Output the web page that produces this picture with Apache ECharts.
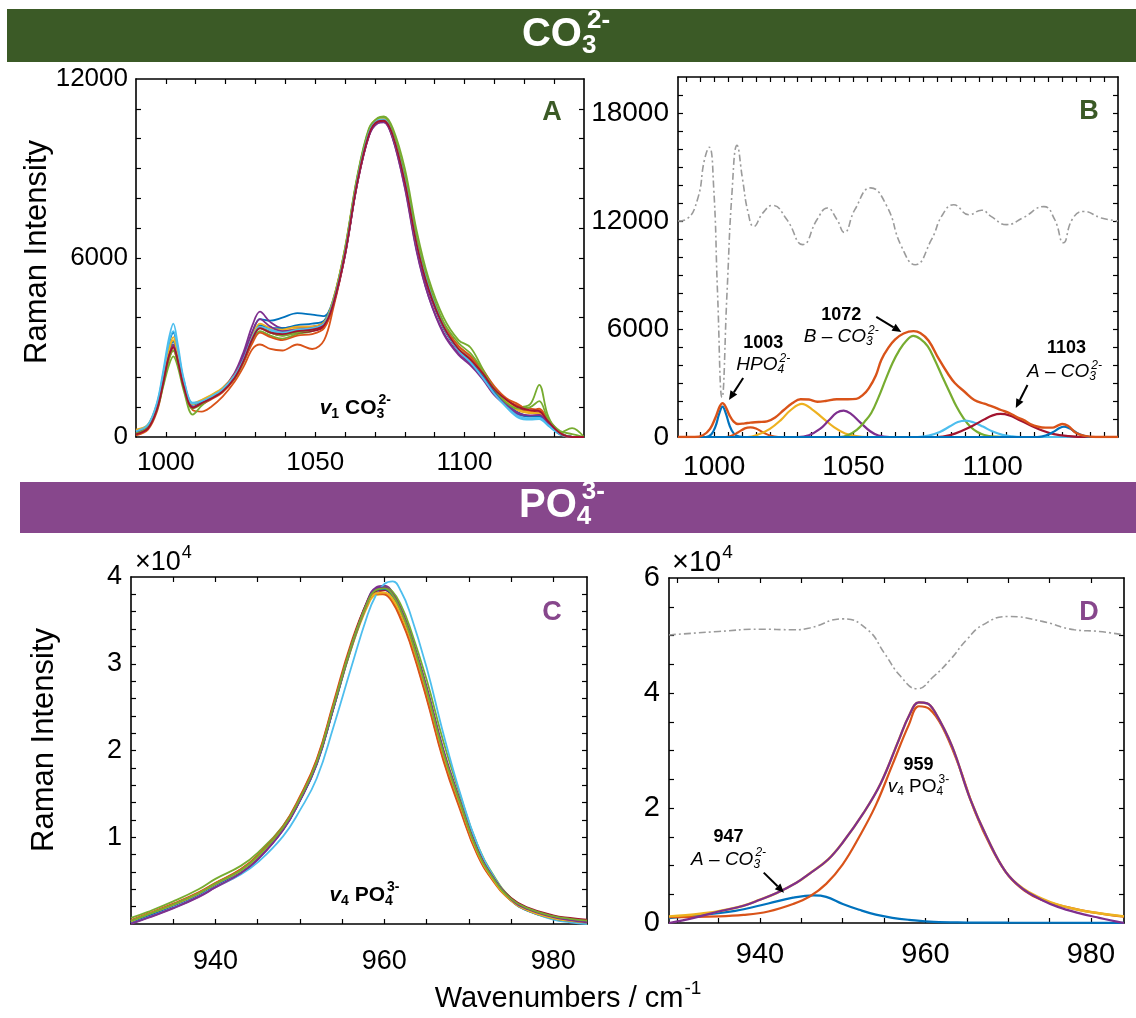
<!DOCTYPE html>
<html><head><meta charset="utf-8">
<script src="https://cdn.jsdelivr.net/npm/echarts@6/dist/echarts.min.js"></script>
<style>html,body{margin:0;padding:0;background:#fff}#c{width:1136px;height:1018px}</style>
</head><body><div id="c"></div>
<script>
// ---------------- DATA ----------------
// Panel A: v1 CO3 spectra (wavenumber grid + one array per spectrum)
const xA = [990, 994, 997, 999, 1001, 1002.5, 1004, 1006, 1009, 1012, 1015, 1019, 1023, 1026, 1029, 1031.5, 1035, 1039, 1044, 1049, 1053, 1056, 1060, 1064, 1068, 1071, 1073, 1076, 1080, 1084, 1088, 1093, 1098, 1102, 1106, 1110, 1114, 1118, 1122, 1125, 1128, 1132, 1136, 1140];
const a1 = [200, 380, 1050, 2000, 3100, 3500, 2900, 1850, 1100, 1200, 1350, 1600, 2100, 2750, 3500, 3950, 3900, 4000, 4150, 4100, 4050, 4600, 6250, 8600, 10250, 10650, 10680, 10150, 8700, 6550, 5050, 3800, 3000, 2600, 2150, 1580, 1150, 820, 700, 700, 480, 150, 0, 0];
const a2 = [50, 250, 850, 1700, 2600, 2900, 2500, 1700, 900, 850, 1000, 1350, 1850, 2350, 2950, 3100, 2950, 2900, 3100, 2950, 3250, 4300, 6100, 8500, 10150, 10550, 10580, 10050, 8500, 6350, 4950, 3750, 3050, 2700, 2200, 1650, 1250, 1050, 950, 900, 600, 150, 0, 0];
const a3 = [250, 420, 1100, 1950, 2950, 3350, 2800, 1800, 1120, 1250, 1400, 1650, 2100, 2650, 3400, 3700, 3600, 3550, 3650, 3700, 3850, 4550, 6300, 8650, 10300, 10680, 10700, 10200, 8700, 6550, 5050, 3750, 2980, 2580, 2120, 1550, 1170, 880, 800, 780, 480, 120, 0, 0];
const a4 = [150, 330, 950, 1800, 2750, 3100, 2600, 1700, 1000, 1100, 1300, 1600, 2150, 2850, 3750, 4200, 3850, 3650, 3700, 3700, 3850, 4500, 6150, 8450, 10100, 10550, 10580, 10000, 8400, 6250, 4700, 3450, 2750, 2400, 1950, 1400, 1050, 750, 700, 720, 450, 100, 0, 0];
const a5 = [100, 300, 900, 1650, 2400, 2700, 2350, 1550, 750, 1050, 1300, 1550, 1950, 2500, 3250, 3550, 3400, 3300, 3450, 3550, 3750, 4550, 6350, 8700, 10350, 10700, 10750, 10350, 9000, 6900, 5300, 4000, 3250, 3000, 2300, 1650, 1200, 1000, 1100, 1750, 700, 150, 300, 0];
const a6 = [200, 420, 1150, 2150, 3300, 3800, 3100, 1950, 1150, 1200, 1350, 1600, 2050, 2600, 3300, 3650, 3550, 3450, 3550, 3600, 3750, 4450, 6150, 8500, 10200, 10650, 10700, 10150, 8650, 6500, 5050, 3750, 2950, 2550, 2050, 1450, 1000, 650, 580, 600, 380, 80, 0, 0];
const a7 = [100, 300, 950, 1800, 2750, 3050, 2600, 1700, 1000, 1150, 1300, 1550, 2000, 2550, 3300, 3650, 3500, 3400, 3500, 3550, 3700, 4400, 6100, 8450, 10100, 10550, 10560, 10050, 8500, 6400, 4900, 3650, 2900, 2550, 2100, 1550, 1200, 950, 850, 820, 500, 120, 0, 0];
const a8 = [180, 360, 1000, 1900, 2850, 3200, 2700, 1780, 1080, 1200, 1350, 1600, 2050, 2600, 3350, 3750, 3650, 3650, 3750, 3800, 3900, 4550, 6200, 8550, 10250, 10650, 10670, 10150, 8550, 6400, 4950, 3650, 2900, 2500, 2050, 1500, 1100, 800, 680, 680, 420, 100, 0, 0];
const a9 = [80, 300, 950, 1800, 2750, 3050, 2600, 1720, 1000, 1100, 1250, 1500, 1950, 2500, 3150, 3500, 3350, 3250, 3400, 3450, 3650, 4400, 6150, 8500, 10150, 10580, 10600, 10100, 8600, 6500, 5000, 3750, 3050, 2700, 2250, 1700, 1300, 1100, 850, 950, 550, 100, 0, 0];
const a10 = [220, 400, 1050, 1900, 2900, 3250, 2750, 1800, 1100, 1230, 1380, 1620, 2080, 2650, 3400, 3800, 3650, 3600, 3700, 3700, 3850, 4600, 6300, 8600, 10250, 10650, 10680, 10200, 8650, 6500, 5000, 3700, 2950, 2600, 2150, 1600, 1200, 920, 820, 800, 500, 130, 0, 0];
const a11 = [130, 320, 950, 1800, 2700, 3050, 2550, 1680, 1000, 1120, 1280, 1550, 2050, 2700, 3550, 3950, 3700, 3550, 3600, 3650, 3800, 4450, 6100, 8450, 10100, 10520, 10550, 10000, 8350, 6200, 4700, 3500, 2800, 2450, 2000, 1450, 1080, 800, 720, 740, 460, 110, 0, 0];
const a12 = [120, 320, 950, 1750, 2600, 2900, 2500, 1650, 950, 1100, 1300, 1550, 2000, 2550, 3300, 3650, 3500, 3400, 3500, 3600, 3800, 4550, 6300, 8650, 10300, 10680, 10720, 10250, 8800, 6700, 5150, 3850, 3150, 2800, 2250, 1600, 1150, 950, 1000, 1200, 600, 200, 100, 0];
const a13 = [190, 400, 1100, 2050, 3150, 3550, 2950, 1900, 1120, 1200, 1350, 1600, 2050, 2600, 3350, 3700, 3600, 3500, 3600, 3650, 3800, 4500, 6200, 8550, 10200, 10620, 10650, 10100, 8600, 6450, 5000, 3700, 2900, 2500, 2000, 1450, 1020, 700, 620, 640, 400, 90, 0, 0];
const a14 = [90, 290, 920, 1750, 2700, 3000, 2550, 1680, 980, 1130, 1280, 1530, 1980, 2550, 3300, 3650, 3500, 3450, 3550, 3600, 3750, 4450, 6150, 8500, 10150, 10580, 10600, 10100, 8550, 6450, 4950, 3700, 2950, 2600, 2150, 1600, 1250, 1000, 900, 870, 520, 130, 0, 0];
const spectraA = [a1, a2, a3, a4, a5, a6, a7, a8, a9, a10, a11, a12, a13, a14];

// Panel B: fitted components [wavenumber, intensity]
const bBlue1003 = [[987,0],[997,0],[999,150],[1000.5,600],[1001.8,1300],[1003,1690],[1004.2,1300],[1005.5,650],[1007,200],[1009,30],[1012,0],[1145,0]];
const bOrange1012 = [[987,0],[1004,0],[1006,60],[1008.5,250],[1011,480],[1013,540],[1015,470],[1017.5,260],[1020,80],[1023,0],[1145,0]];
const bYellow1031 = [[987,0],[1012,0],[1016,150],[1020,450],[1024,950],[1027.5,1500],[1031.5,1840],[1035,1550],[1039,1050],[1043,550],[1047,200],[1051,50],[1055,0],[1145,0]];
const bPurple1046 = [[987,0],[1030,0],[1034,100],[1038,450],[1041,900],[1044,1350],[1046.5,1470],[1049,1300],[1052.5,800],[1056,320],[1059,80],[1063,0],[1145,0]];
const bGreen1072 = [[987,0],[1045,0],[1048,100],[1051.2,390],[1054,850],[1056.4,1330],[1059,2200],[1061.5,3170],[1064,4100],[1066.5,4830],[1069,5350],[1071.5,5620],[1074,5450],[1076.7,5030],[1079.3,4250],[1081.9,3360],[1084.5,2500],[1087,1690],[1089.5,1050],[1092,570],[1094.5,280],[1097,110],[1101,20],[1105,0],[1145,0]];
const bLightBlue1090 = [[987,0],[1073,0],[1077,80],[1081,280],[1084.5,580],[1087.5,830],[1090.2,910],[1093,820],[1096.5,580],[1100,300],[1103.5,120],[1107,30],[1110,0],[1145,0]];
const bRed1103 = [[987,0],[1080,0],[1085,120],[1089,350],[1093,640],[1097,980],[1100,1200],[1102.8,1280],[1106,1200],[1109.5,950],[1113.6,640],[1118,350],[1122,160],[1127,50],[1132,0],[1145,0]];
const bBlue1125 = [[987,0],[1116,0],[1119,80],[1122,300],[1124,500],[1125.6,570],[1127.5,480],[1130,250],[1132.5,80],[1135,0],[1145,0]];
const bSpectrum = [[987,0],[993,0],[996,100],[998.5,450],[1000.5,1100],[1002,1700],[1003,1880],[1004.2,1650],[1005.5,1200],[1007,850],[1008.5,720],[1011,760],[1013,800],[1016,830],[1019,870],[1022,1100],[1025,1500],[1028,1870],[1031,2100],[1034,2080],[1037,1960],[1040,2000],[1044,2100],[1048,2100],[1051,2120],[1053.5,2350],[1055.5,2700],[1058,3400],[1060,4280],[1062.5,4950],[1065,5420],[1068,5750],[1071.6,5880],[1074,5780],[1077,5350],[1080.6,4350],[1084,3500],[1086.4,3000],[1090,2500],[1093.4,2060],[1097,1850],[1100,1690],[1103,1500],[1106,1330],[1108.5,1120],[1111,950],[1113.5,720],[1116.3,570],[1119,520],[1121.5,520],[1123.5,650],[1125,720],[1127,620],[1130,220],[1133,60],[1137,0],[1145,0]];
const bDeriv = [[987,12000],[990,12100],[994,13200],[996.5,15400],[998.2,16100],[999.8,13900],[1001.2,8000],[1002.8,2200],[1004.6,8000],[1006.4,13600],[1008.2,16200],[1010.2,14300],[1012.2,12450],[1014.2,11700],[1017.5,12450],[1021,12870],[1026,12100],[1031.8,10690],[1037,12100],[1040.6,12720],[1044,12100],[1046.7,11370],[1050.5,12630],[1056.2,13840],[1062,12820],[1067.2,10600],[1072.2,9570],[1078,10960],[1082,12350],[1086,12900],[1091.5,12350],[1096,12600],[1099.4,12260],[1105,11800],[1110.8,12170],[1118.4,12800],[1122.2,12100],[1125.4,10790],[1128.6,12100],[1132.6,12530],[1139,12170],[1145,12000]];

// Panel C: v4 PO4 spectra
const xC = [930, 932, 935, 938, 940, 943, 945, 948, 950, 952, 954, 956, 958, 959, 960, 961, 962, 963, 965, 967, 969, 971, 973, 975, 977, 980, 982, 984];
const c1 = [200, 950, 2100, 3400, 4500, 6050, 7600, 10900, 14200, 18400, 24900, 31600, 37200, 38700, 38900, 38100, 36200, 33700, 27100, 19800, 13900, 8400, 5000, 2700, 1500, 600, 300, 100];
const c2 = [400, 1150, 2300, 3600, 4700, 6300, 7900, 11300, 14700, 19000, 25600, 32200, 37200, 38300, 38200, 37200, 35200, 32700, 26200, 19000, 13300, 8100, 4900, 2800, 1700, 800, 500, 300];
const c3 = [350, 1100, 2250, 3550, 4650, 6200, 7750, 11000, 14400, 18600, 25100, 31500, 36600, 37900, 38000, 37300, 35500, 33000, 26700, 19500, 13700, 8400, 5000, 2750, 1600, 700, 400, 200];
const c4 = [0, 700, 1800, 3100, 4200, 5800, 7400, 10800, 14200, 18500, 25000, 31800, 37300, 38800, 39000, 38200, 36300, 33800, 27400, 20100, 14200, 8800, 5300, 2900, 1800, 900, 500, 200];
const c5 = [700, 1400, 2600, 4000, 5200, 6700, 8200, 11300, 14500, 18600, 25000, 31500, 36900, 38400, 38800, 38300, 36700, 34300, 28200, 21000, 14800, 9200, 5500, 3000, 1800, 700, 400, 200];
const c6 = [100, 800, 1900, 3200, 4300, 5700, 7100, 10100, 13100, 16800, 22800, 29300, 35600, 37900, 39200, 39500, 38300, 36000, 29600, 21900, 15000, 9200, 5400, 2900, 1600, 500, 200, 0];
const c7 = [300, 1050, 2200, 3500, 4600, 6150, 7700, 11050, 14400, 18700, 25200, 31900, 37200, 38400, 38500, 37700, 35800, 33300, 26800, 19600, 13800, 8600, 5200, 3000, 1900, 1000, 700, 500];
const c8 = [250, 1000, 2150, 3450, 4550, 6100, 7650, 10950, 14300, 18500, 25000, 31700, 37000, 38500, 38600, 37800, 35900, 33400, 26900, 19600, 13800, 8400, 5000, 2750, 1550, 650, 350, 150];
const c9 = [450, 1200, 2350, 3650, 4750, 6300, 7900, 11200, 14600, 18900, 25400, 31900, 36900, 38100, 38000, 37000, 35000, 32500, 26000, 18800, 13100, 8000, 4800, 2700, 1650, 800, 500, 300];
const c10 = [300, 1100, 2200, 3500, 4600, 6150, 7700, 11000, 14350, 18600, 25100, 31700, 36900, 38100, 38200, 37500, 35700, 33200, 26800, 19500, 13700, 8300, 4950, 2700, 1550, 650, 350, 150];
const c11 = [50, 750, 1850, 3150, 4250, 5850, 7450, 10850, 14250, 18500, 25000, 31700, 37100, 38600, 38800, 38000, 36100, 33600, 27200, 19900, 14000, 8600, 5200, 2850, 1700, 800, 450, 200];
const c12 = [350, 1100, 2250, 3550, 4650, 6200, 7800, 11100, 14450, 18700, 25200, 31800, 37100, 38500, 38700, 37900, 36000, 33500, 27000, 19700, 13900, 8500, 5100, 2900, 1800, 900, 600, 400];
const spectraC = [c1, c2, c3, c4, c5, c6, c7, c8, c9, c10, c11, c12];

// Panel D: fit of v4 PO4 band [wavenumber, intensity]
const dBlue947 = [[929,850],[933,1400],[937,2100],[941,3400],[944,4400],[946.5,4800],[948,4550],[950,3300],[952,2300],[954,1450],[956,900],[958,550],[961,180],[965,80],[970,50],[984,30]];
const dOrange959 = [[929,1000],[935,1150],[938,1400],[941,2000],[944,3300],[946,4600],[948,6800],[950,10200],[952,15000],[954,20500],[956,27500],[958,34500],[959.2,37700],[960.5,37200],[962,34200],[964,27500],[966,19300],[968,13000],[970,8300],[972,5600],[974,4060],[977,2800],[980,1900],[984,1100]];
const dFit = [[929,1150],[931,1350],[933,1650],[935,2050],[938,3000],[940,4050],[942,5200],[944.4,7000],[946,8600],[948.2,11000],[950,14000],[952.5,19100],[954.6,24300],[956.8,31900],[958,36000],[959.2,38360],[960.2,38200],[961.1,36800],[963.2,30800],[965.4,21600],[967.5,14700],[969.7,8900],[971.8,6000],[974,4300],[976,3200],[978.3,2350],[981,1700],[984,1150]];
const dSpectrum = [[929,0],[932,900],[935,2000],[938,3000],[940,4050],[942,5200],[944.4,7000],[946,8600],[948.2,11000],[950,14000],[952.5,19100],[954.6,24300],[956.8,31900],[958,36000],[959.2,38360],[960.2,38200],[961.1,36800],[963.2,30800],[965.4,21600],[967.5,14700],[969.7,8900],[971.8,5900],[974,4060],[976,2800],[978.3,1800],[981,900],[984,0]];
const dDeriv = [[929,50100],[935,50700],[940,51100],[944,51000],[946,51300],[950,52900],[953,51000],[955,47000],[957,42900],[959,40750],[961,42900],[963,45800],[965,49300],[967,51900],[970,53300],[974,52500],[978,51000],[981,50700],[984,50100]];

// Tick labels
const xLabA = [1000, 1050, 1100], yLabA = [0, 6000, 12000];
const xLabB = [1000, 1050, 1100], yLabB = [0, 6000, 12000, 18000];
const xLabC = [940, 960, 980], yLabC = [10000, 20000, 30000, 40000];
const xLabD = [940, 960, 980], yLabD = [0, 20000, 40000, 60000];

// ---------------- CHART ----------------
const MC = ['#0072BD','#D95319','#EDB120','#7E2F8E','#77AC30','#4DBEEE','#A2142F'];
const FONT = '"Liberation Sans", Arial, Helvetica, sans-serif';
const GREEN = '#3b5a26', PURPLE = '#87478c';
function range(a,b,s){const r=[];for(let v=a;v<=b+1e-9;v+=s)r.push(+v.toFixed(3));return r;}

const grids = [
  {left:136, top:79, width:448, height:358},
  {left:678, top:77, width:440, height:360},
  {left:131, top:577, width:456, height:347},
  {left:669, top:578, width:455, height:345}
];
const axSpec = [
  {x:[990,1140], xt:range(1000,1130,10), xl:xLabA, y:[0,12000], yt:range(1000,11000,1000), yl:yLabA, fs:26, xm:13, ym:8, yf:v=>String(v)},
  {x:[987,1145], xt:range(990,1140,5), xl:xLabB, y:[0,20000], yt:range(1000,19000,1000), yl:yLabB, fs:28, xm:16, ym:9, yf:v=>String(v)},
  {x:[930,984], xt:range(935,980,5), xl:xLabC, y:[0,40000], yt:range(2000,38000,2000), yl:yLabC, fs:27, xm:24, ym:9, yf:v=>String(v/10000)},
  {x:[929,984], xt:range(930,980,5), xl:xLabD, y:[0,60000], yt:range(5000,55000,5000), yl:yLabD, fs:29, xm:17, ym:9, yf:v=>String(v/10000)}
];
const xAxis = [], yAxis = [];
axSpec.forEach((s, gi) => {
  ['bottom','top'].forEach((pos, k) => xAxis.push({
    type:'value', gridIndex:gi, position:pos, min:s.x[0], max:s.x[1],
    axisLine:{show:true, onZero:false, lineStyle:{color:'#000', width:1.6}},
    axisTick:{show:true, inside:true, length:5, customValues:s.xt, lineStyle:{color:'#000', width:1.2}},
    axisLabel:{show:k===0, customValues:s.xl, fontSize:s.fs, color:'#000', fontFamily:FONT, margin:s.xm, formatter:v=>String(v)},
    splitLine:{show:false}
  }));
  ['left','right'].forEach((pos, k) => yAxis.push({
    type:'value', gridIndex:gi, position:pos, min:s.y[0], max:s.y[1],
    axisLine:{show:true, onZero:false, lineStyle:{color:'#000', width:1.6}},
    axisTick:{show:true, inside:true, length:5, customValues:s.yt, lineStyle:{color:'#000', width:1.2}},
    axisLabel:{show:k===0, customValues:s.yl, fontSize:s.fs, color:'#000', fontFamily:FONT, margin:s.ym, formatter:s.yf},
    splitLine:{show:false}
  }));
});

function line(gi, data, color, width, extra) {
  return Object.assign({
    type:'line', xAxisIndex:gi*2, yAxisIndex:gi*2, data, symbol:'none', showSymbol:false,
    smooth:0.35, silent:true, animation:false,
    lineStyle:{color, width}, itemStyle:{color}
  }, extra || {});
}
const zip = (xs, ys) => xs.map((x, i) => [x, ys[i]]);
const DASHDOT = {color:'#9b9b9b', width:1.6, type:[7,3,2,3]};

const series = [];
spectraA.forEach((ys, i) => series.push(line(0, zip(xA, ys), MC[i % 7], 1.8)));
[[bBlue1003, MC[0]], [bOrange1012, MC[1]], [bYellow1031, MC[2]], [bPurple1046, MC[3]], [bGreen1072, MC[4]], [bLightBlue1090, MC[5]], [bRed1103, MC[6]], [bBlue1125, MC[0]]]
  .forEach(([d, c]) => series.push(line(1, d, c, 2.2, {smooth:0.4})));
series.push(line(1, bSpectrum, MC[1], 2.4, {smooth:0.4}));
series.push(line(1, bDeriv, '#9b9b9b', 1.6, {smooth:0.5, lineStyle:DASHDOT}));
spectraC.forEach((ys, i) => series.push(line(2, zip(xC, ys), MC[i % 7], 1.8, {smooth:0.45})));
series.push(line(3, dBlue947, MC[0], 2.2, {smooth:0.4}));
series.push(line(3, dOrange959, MC[1], 2.2, {smooth:0.4}));
series.push(line(3, dFit, MC[2], 2.4, {smooth:0.4}));
series.push(line(3, dSpectrum, MC[3], 2.2, {smooth:0.4}));
series.push(line(3, dDeriv, '#9b9b9b', 1.6, {smooth:0.5, lineStyle:DASHDOT}));

const chart = echarts.init(document.getElementById('c'), null, {renderer:'canvas'});
chart.setOption({
  animation:false, backgroundColor:'#fff',
  grid: grids.map(g => Object.assign({outerBoundsMode:'none', containLabel:false}, g)),
  xAxis, yAxis, series
});

// ---------------- TEXT / ANNOTATIONS ----------------
const mctx = document.createElement('canvas').getContext('2d');
function tw(t, size, w, it) { mctx.font = (it ? 'italic ' : '') + (w || 'normal') + ' ' + size + 'px ' + FONT; return mctx.measureText(t).width; }
function chem(cx, cy, segs, align, color) {
  let x = 0, pend = 0; const items = [];
  segs.forEach(s => {
    const w = tw(s.t, s.s, s.w, s.i); const sx = x + (s.dx || 0);
    items.push({s, sx}); const end = sx + w;
    if (s.hold) pend = Math.max(pend, end); else { x = Math.max(end, pend); pend = 0; }
  });
  const x0 = align === 'center' ? cx - x / 2 : align === 'right' ? cx - x : cx;
  return items.map(({s, sx}) => ({type:'text', x:x0 + sx, y:cy + (s.dy || 0), silent:true, z:100,
    style:{text:s.t, fontSize:s.s, fontWeight:s.w || 'normal', fontStyle:s.i ? 'italic' : 'normal', fontFamily:FONT,
      fill:color || '#000', textAlign:'left', textVerticalAlign:'middle', align:'left', verticalAlign:'middle'}}));
}
function px(gi, x, y) { return chart.convertToPixel({gridIndex:gi}, [x, y]); }
function arrow(gi, from, to) {
  const a = px(gi, from[0], from[1]), b = px(gi, to[0], to[1]);
  const ang = Math.atan2(b[1] - a[1], b[0] - a[0]), L = 9, W = 4;
  const bx = b[0] - L * Math.cos(ang), by = b[1] - L * Math.sin(ang);
  return [
    {type:'line', silent:true, z:100, shape:{x1:a[0], y1:a[1], x2:bx, y2:by}, style:{stroke:'#000', lineWidth:2}},
    {type:'polygon', silent:true, z:100, shape:{points:[[b[0], b[1]], [bx + W * Math.sin(ang), by - W * Math.cos(ang)], [bx - W * Math.sin(ang), by + W * Math.cos(ang)]]}, style:{fill:'#000'}}
  ];
}
const SUB = (t, s, it, w, hold) => ({t, s, i:it, w, dy:s * 0.42, hold});
const SUP = (t, s, it, w, dx) => ({t, s, i:it, w, dy:-s * 0.55, dx: dx || 1});

let G = [];
// header bands
G.push({type:'rect', silent:true, z:0, shape:{x:7, y:9, width:1129, height:53}, style:{fill:GREEN}});
G.push({type:'rect', silent:true, z:0, shape:{x:20, y:482, width:1116, height:51}, style:{fill:PURPLE}});
G = G.concat(chem(566, 35, [{t:'CO', s:40, w:'bold'}, SUB('3', 26, false, 'bold', true), SUP('2-', 26, false, 'bold', 5)], 'center', '#fff'));
G = G.concat(chem(562, 506, [{t:'PO', s:40, w:'bold'}, SUB('4', 26, false, 'bold', true), SUP('3-', 26, false, 'bold', 5)], 'center', '#fff'));
// panel letters
[['A', 552, 113, GREEN], ['B', 1089, 112, GREEN], ['C', 552, 613, PURPLE], ['D', 1089, 613, PURPLE]].forEach(([t, x, y, c]) =>
  G.push({type:'text', x, y, silent:true, z:100, style:{text:t, fontSize:27, fontWeight:'bold', fontFamily:FONT, fill:c, textAlign:'center', textVerticalAlign:'middle', align:'center', verticalAlign:'middle'}}));
// axis titles
[[37, 252], [44, 740]].forEach(([x, y]) =>
  G.push({type:'text', x, y, rotation:Math.PI / 2, silent:true, z:100, style:{text:'Raman Intensity', fontSize:31, fontFamily:FONT, fill:'#000', textAlign:'center', textVerticalAlign:'middle', align:'center', verticalAlign:'middle'}}));
G = G.concat(chem(568, 999, [{t:'Wavenumbers / cm', s:29}, SUP('-1', 19, false, 'normal', 1)], 'center'));
// x10^4 multipliers
G = G.concat(chem(135, 563, [{t:'\u00d710', s:27}, SUP('4', 18, false, 'normal', 1)], 'left'));
G = G.concat(chem(672, 563, [{t:'\u00d710', s:29}, SUP('4', 19, false, 'normal', 1)], 'left'));
// panel A / C band labels
let p = px(0, 1051.5, 970);
G = G.concat(chem(p[0], p[1], [{t:'v', s:21, w:'bold', i:true}, SUB('1', 14, false, 'bold'), {t:' CO', s:21, w:'bold'}, SUB('3', 14, false, 'bold', true), SUP('2-', 14, false, 'bold', 2)], 'left'));
p = px(2, 953.5, 3340);
G = G.concat(chem(p[0], p[1], [{t:'v', s:21, w:'bold', i:true}, SUB('4', 14, false, 'bold'), {t:' PO', s:21, w:'bold'}, SUB('4', 14, false, 'bold', true), SUP('3-', 14, false, 'bold', 2)], 'left'));
// panel B annotations
p = px(1, 1017.6, 5230); G = G.concat(chem(p[0], p[1], [{t:'1003', s:18, w:'bold'}], 'center'));
p = px(1, 1017.6, 4000); G = G.concat(chem(p[0], p[1], [{t:'HPO', s:19, i:true}, SUB('4', 12, true, 'normal', true), SUP('2-', 12, true, 'normal', 2)], 'center'));
p = px(1, 1045.6, 6790); G = G.concat(chem(p[0], p[1], [{t:'1072', s:18, w:'bold'}], 'center'));
p = px(1, 1045.6, 5560); G = G.concat(chem(p[0], p[1], [{t:'B \u2013 CO', s:19, i:true}, SUB('3', 12, true, 'normal', true), SUP('2-', 12, true, 'normal', 2)], 'center'));
p = px(1, 1126.5, 4950); G = G.concat(chem(p[0], p[1], [{t:'1103', s:18, w:'bold'}], 'center'));
p = px(1, 1125.8, 3620); G = G.concat(chem(p[0], p[1], [{t:'A \u2013 CO', s:19, i:true}, SUB('3', 12, true, 'normal', true), SUP('2-', 12, true, 'normal', 2)], 'center'));
G = G.concat(arrow(1, [1010.4, 3280], [1005.3, 2060]));
G = G.concat(arrow(1, [1058.2, 6670], [1067.2, 5840]));
G = G.concat(arrow(1, [1112.5, 2890], [1108.3, 1610]));
// panel D annotations
p = px(3, 959.15, 27530); G = G.concat(chem(p[0], p[1], [{t:'959', s:18, w:'bold'}], 'center'));
p = px(3, 959.15, 23700); G = G.concat(chem(p[0], p[1], [{t:'v', s:19, i:true}, SUB('4', 12, false, 'normal'), {t:' PO', s:19}, SUB('4', 12, false, 'normal', true), SUP('3-', 12, false, 'normal', 2)], 'center'));
p = px(3, 936.2, 15000); G = G.concat(chem(p[0], p[1], [{t:'947', s:18, w:'bold'}], 'center'));
p = px(3, 936.2, 11000); G = G.concat(chem(p[0], p[1], [{t:'A \u2013 CO', s:19, i:true}, SUB('3', 12, true, 'normal', true), SUP('2-', 12, true, 'normal', 2)], 'center'));
G = G.concat(arrow(3, [940.45, 8760], [942.9, 5280]));

chart.setOption({graphic:{elements:G}});
</script>
</body></html>
